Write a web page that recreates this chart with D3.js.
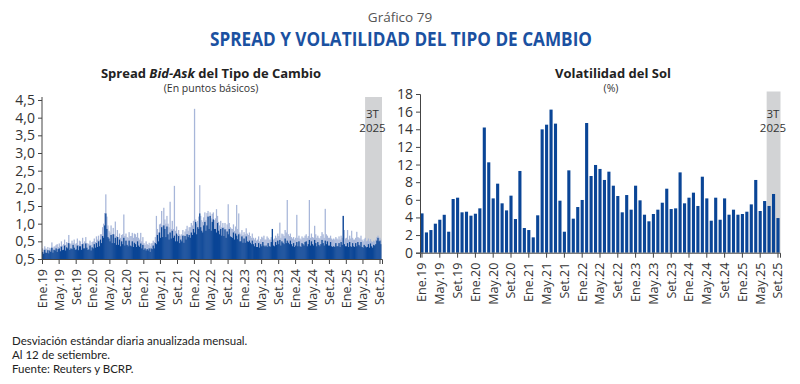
<!DOCTYPE html>
<html>
<head>
<meta charset="utf-8">
<script src="https://cdn.jsdelivr.net/npm/d3@7"></script>
<style>
  body { margin: 0; background: #fff; }
  svg text { font-family: "Open Sans", Lato, sans-serif; fill: #333; }
</style>
</head>
<body>
<svg id="chart" width="800" height="384"></svg>
<script>
// Spread bid-ask (pb): 4 valores por mes (aprox. semanales), Ene.19 - Set.25
var spreadOscuro = [
  [0.2,0.15,0.26,0.18],[0.17,0.25,0.16,0.24],[0.2,0.32,0.18,0.26],[0.24,0.3,0.2,0.28],
  [0.3,0.22,0.35,0.25],[0.26,0.38,0.24,0.33],[0.3,0.45,0.26,0.3],[0.28,0.4,0.32,0.26],
  [0.27,0.38,0.25,0.36],[0.36,0.26,0.42,0.3],[0.3,0.44,0.32,0.26],[0.27,0.38,0.24,0.33],
  [0.3,0.42,0.32,0.45],[0.34,0.5,0.36,0.55],[0.45,0.65,0.6,0.95],[1.29,0.85,0.62,0.58],
  [0.5,0.68,0.45,0.7],[0.45,0.6,0.4,0.62],[0.4,0.55,0.36,0.5],[0.42,0.6,0.38,0.52],
  [0.4,0.36,0.52,0.38],[0.36,0.5,0.34,0.46],[0.42,0.34,0.5,0.38],[0.34,0.44,0.3,0.4],
  [0.26,0.3,0.24,0.28],[0.24,0.3,0.2,0.3],[0.28,0.38,0.3,0.45],[0.42,0.68,0.5,0.75],
  [0.6,0.9,0.62,0.95],[0.85,0.62,0.92,0.7],[0.55,0.75,0.58,0.8],[0.6,0.66,0.5,0.72],
  [0.5,0.65,0.45,0.55],[0.5,0.66,0.46,0.65],[0.55,0.7,0.62,0.68],[0.6,0.75,0.68,0.85],
  [0.75,1.05,0.7,0.9],[0.85,1.29,0.9,0.8],[0.75,0.95,1.05,0.8],[0.95,1.2,0.85,1.22],
  [0.8,1.05,1.12,0.85],[0.85,0.75,1.02,0.8],[0.7,0.85,0.66,0.88],[0.65,0.84,0.6,0.78],
  [0.7,0.85,0.64,0.62],[0.6,0.75,0.55,0.72],[0.66,0.56,0.7,0.5],[0.5,0.64,0.46,0.58],
  [0.46,0.64,0.5,0.48],[0.52,0.46,0.42,0.52],[0.42,0.36,0.45,0.34],[0.34,0.45,0.32,0.42],
  [0.36,0.48,0.38,0.35],[0.38,0.34,0.45,0.36],[0.35,0.48,0.85,0.38],[0.36,0.48,0.4,0.52],
  [0.42,0.54,0.38,0.5],[0.46,0.42,0.58,0.45],[0.52,0.46,0.42,0.52],[0.42,0.36,0.45,0.34],
  [0.38,0.48,0.36,0.5],[0.36,0.34,0.45,0.42],[0.38,0.48,0.5,0.36],[0.42,0.54,0.38,0.5],
  [0.42,0.38,0.54,0.45],[0.36,0.48,0.4,0.36],[0.42,0.54,0.45,0.38],[0.52,0.42,0.5,0.38],
  [0.38,0.48,0.36,0.34],[0.36,0.34,0.45,0.36],[0.36,0.45,0.34,0.48],[0.4,1.22,0.42,0.36],
  [0.36,0.45,0.34,0.48],[0.36,0.34,0.45,0.36],[0.34,0.45,0.36,0.48],[0.4,0.36,0.48,0.34],
  [0.32,0.4,0.36,0.33],[0.34,0.42,0.32,0.44],[0.36,0.32,0.4,0.38],[0.42,0.52,0.6,0.5],
  [0.52,0.42]
]
var spreadClaro = [
  [0.3,0.26,0.36,0.3],[0.28,0.34,0.26,0.32],[0.3,0.47,0.3,0.35],[0.36,0.4,0.42,0.34],
  [0.44,0.36,0.5,0.38],[0.42,0.55,0.4,0.48],[0.45,0.68,0.42,0.44],[0.52,0.45,0.55,0.42],
  [0.45,0.58,0.4,0.52],[0.5,0.42,0.6,0.45],[0.5,0.62,0.45,0.44],[0.42,0.52,0.4,0.48],
  [0.5,0.58,0.48,0.64],[0.55,0.66,0.52,0.7],[0.7,0.9,1.0,1.3],[1.83,1.2,0.95,0.8],
  [0.75,0.95,0.7,0.88],[0.7,1.06,0.65,0.82],[0.62,0.72,0.6,0.68],[0.7,1.26,0.65,0.72],
  [0.62,0.6,0.76,0.65],[0.65,0.74,0.6,0.72],[0.7,0.62,0.74,0.6],[0.55,0.74,0.5,0.62],
  [0.45,0.4,0.5,0.42],[0.4,0.46,0.36,0.44],[0.45,0.52,0.48,0.62],[1.22,0.85,0.75,0.98],
  [1.0,1.36,0.95,1.45],[1.12,1.0,1.22,1.0],[0.9,1.62,0.85,1.08],[0.85,2.07,0.8,0.92],
  [0.68,0.82,0.7,0.66],[0.7,0.82,0.68,0.78],[0.85,0.94,0.8,0.9],[0.9,1.02,0.95,1.08],
  [4.25,1.12,1.0,1.08],[1.2,2.09,1.22,1.1],[1.05,1.18,1.32,1.1],[1.3,1.36,1.2,1.32],
  [1.15,1.28,1.32,1.1],[1.15,1.41,1.22,1.05],[0.95,1.08,0.9,1.02],[0.9,1.02,0.85,0.98],
  [1.55,1.02,0.9,0.86],[0.85,0.98,0.8,0.92],[1.53,0.85,1.29,0.75],[0.7,0.82,0.68,0.76],
  [0.7,0.87,0.72,0.68],[0.75,0.65,0.6,0.72],[0.6,0.55,0.6,0.52],[0.55,0.64,0.5,0.56],
  [0.63,0.6,0.66,0.55],[0.55,0.64,0.6,0.55],[0.55,0.62,0.85,0.55],[0.58,0.66,0.6,0.72],
  [0.65,1.03,0.6,0.72],[0.7,0.65,0.82,0.75],[1.67,0.7,0.65,0.72],[0.62,0.58,0.62,0.55],
  [0.6,1.25,0.6,0.66],[0.58,0.55,0.64,0.6],[0.6,0.66,0.7,0.6],[0.65,1.67,0.6,0.72],
  [0.62,0.6,0.94,0.7],[0.6,0.66,0.6,0.58],[0.65,0.76,0.7,0.6],[1.42,0.7,0.66,0.6],
  [0.6,0.66,0.58,0.55],[0.58,0.55,0.62,0.58],[0.55,0.64,0.55,0.66],[0.6,1.22,0.82,0.58],
  [0.6,0.82,0.55,0.66],[0.58,0.8,0.6,0.55],[0.55,0.6,0.77,0.62],[0.6,0.58,0.66,0.55],
  [0.5,0.56,0.6,0.5],[0.52,0.58,0.5,0.56],[0.5,0.48,0.52,0.5],[0.55,0.62,0.66,0.6],
  [0.6,0.55]
]
var spreadTicks = [0, 0.5, 1, 1.5, 2, 2.5, 3, 3.5, 4, 4.5]
var spreadTickLabels = ['0,5', '0,5', '1,0', '1,5', '2,0', '2,5', '3,0', '3,5', '4,0', '4,5']

// Volatilidad del Sol (%), mensual Ene.19 - Set.25
var volatilidad = [
  4.46, 2.3, 2.57, 3.29, 3.74, 4.3, 2.38, 6.09, 6.24, 4.58, 4.65, 4.2,
  4.42, 5.03, 14.2, 10.25, 6.16, 7.83, 5.6, 4.8, 6.47, 3.82, 9.27, 2.8,
  2.57, 1.74, 4.24, 13.99, 14.52, 16.23, 14.64, 5.9, 2.38, 9.34, 3.86, 5.18,
  5.98, 14.71, 8.7, 9.95, 9.5, 8.25, 9.19, 7.6, 6.43, 4.58, 6.54, 4.88,
  7.6, 5.94, 4.31, 3.56, 4.39, 4.88, 5.67, 7.26, 4.95, 5.03, 9.11, 5.6,
  6.24, 6.81, 5.3, 8.62, 6.16, 3.63, 6.24, 3.74, 6.16, 4.31, 4.88, 4.31,
  4.39, 4.65, 5.48, 8.25, 4.73, 5.86, 5.3, 6.66, 3.93
]
var volTicks = [0, 2, 4, 6, 8, 10, 12, 14, 16, 18]
var volTickLabels = ['0', '2', '4', '6', '8', '12', '12', '14', '16', '18']

var mesesAbr = ['Ene', 'Feb', 'Mar', 'Abr', 'May', 'Jun', 'Jul', 'Ago', 'Set', 'Oct', 'Nov', 'Dic']
var notas = ['Desviación estándar diaria anualizada mensual.', 'Al 12 de setiembre.', 'Fuente: Reuters y BCRP.']

var azul = '#0a4596'
var azulClaro = '#a7b6d9'
var gris = '#d2d3d5'

var svg = d3.select('#chart')

function fmtMes (d) {
  return mesesAbr[d.getMonth()] + '.' + String(d.getFullYear()).slice(2)
}

// titulos
svg.append('text').attr('x', 400).attr('y', 22).attr('text-anchor', 'middle')
  .style('font-size', '13.5px').style('fill', '#555').text('Gráfico 79')
svg.append('text').attr('x', 401).attr('y', 46).attr('text-anchor', 'middle')
  .attr('textLength', 382).attr('lengthAdjust', 'spacingAndGlyphs')
  .style('font-size', '20px').style('font-weight', 'bold').style('fill', '#1b51a1')
  .text('SPREAD Y VOLATILIDAD DEL TIPO DE CAMBIO')

var sub1 = svg.append('text').attr('x', 211).attr('y', 78).attr('text-anchor', 'middle')
  .style('font-size', '13px').style('font-weight', 'bold').style('fill', '#222')
sub1.append('tspan').text('Spread ')
sub1.append('tspan').style('font-style', 'italic').text('Bid-Ask')
sub1.append('tspan').text(' del Tipo de Cambio')
svg.append('text').attr('x', 211).attr('y', 92).attr('text-anchor', 'middle')
  .style('font-size', '10.5px').text('(En puntos básicos)')

svg.append('text').attr('x', 613).attr('y', 78).attr('text-anchor', 'middle')
  .style('font-size', '13px').style('font-weight', 'bold').style('fill', '#222').text('Volatilidad del Sol')
svg.append('text').attr('x', 611).attr('y', 92).attr('text-anchor', 'middle')
  .style('font-size', '10.5px').text('(%)')

// ---------- panel izquierdo: spread ----------
var x1 = d3.scaleTime().domain([new Date(2019, 0, 1), new Date(2025, 8, 19)]).range([42, 382])
var y1 = d3.scaleLinear().domain([0, 4.5]).range([259, 100])

var g1 = svg.append('g')

// sombreado 3T 2025 (en el original arranca algo antes de julio)
var sombra1 = x1(new Date(2025, 4, 20))
g1.append('rect').attr('x', sombra1).attr('y', 97)
  .attr('width', 382 - sombra1).attr('height', y1(0) - 97).attr('fill', gris)
g1.append('text').attr('x', 372.5).attr('y', 118).attr('text-anchor', 'middle')
  .style('font-size', '11.5px').text('3T')
g1.append('text').attr('x', 372.5).attr('y', 132).attr('text-anchor', 'middle')
  .style('font-size', '11.5px').text('2025')

function semanas (serie) {
  var out = []
  serie.forEach(function (vals, m) {
    var ini = new Date(2019, m, 1)
    var fin = (m === serie.length - 1) ? new Date(2019, m, 13) : new Date(2019, m + 1, 1)
    var span = (fin - ini) / vals.length
    vals.forEach(function (v, i) {
      out.push({ d0: new Date(+ini + span * i), d1: new Date(+ini + span * (i + 1)), v: v })
    })
  })
  return out
}

function barras (datos, color) {
  g1.append('g').selectAll('rect').data(datos).enter().append('rect')
    .attr('x', function (d) { return x1(d.d0) })
    .attr('width', function (d) { return x1(d.d1) - x1(d.d0) + 0.2 })
    .attr('y', function (d) { return y1(d.v) })
    .attr('height', function (d) { return y1(0) - y1(d.v) })
    .attr('fill', color)
}
barras(semanas(spreadClaro), azulClaro)
barras(semanas(spreadOscuro), azul)

var yAxis1 = g1.append('g').attr('transform', 'translate(42,0)')
  .call(d3.axisLeft(y1).tickValues(spreadTicks).tickSize(4)
    .tickFormat(function (d, i) { return spreadTickLabels[i] }))
yAxis1.select('.domain').attr('d', 'M0,97V259')

var xAxis1 = g1.append('g').attr('transform', 'translate(0,259)')
  .call(d3.axisBottom(x1).ticks(d3.timeMonth.every(4)).tickSize(5).tickFormat(fmtMes))

// ---------- panel derecho: volatilidad ----------
var meses = volatilidad.map(function (v, i) { return new Date(2019, i, 1) })
var x2 = d3.scaleBand().domain(meses).range([420, 780]).paddingInner(0.3).paddingOuter(0.1)
var y2 = d3.scaleLinear().domain([0, 18]).range([252.7, 94])

var g2 = svg.append('g')
var sombraIni = x2(meses[78]) - x2.step() * 0.2
g2.append('rect').attr('x', sombraIni).attr('y', 91.5)
  .attr('width', 780.5 - sombraIni).attr('height', y2(0) - 91.5).attr('fill', gris)
g2.append('text').attr('x', 773).attr('y', 118).attr('text-anchor', 'middle')
  .style('font-size', '11.5px').text('3T')
g2.append('text').attr('x', 773).attr('y', 132).attr('text-anchor', 'middle')
  .style('font-size', '11.5px').text('2025')

g2.append('g').selectAll('rect').data(volatilidad).enter().append('rect')
  .attr('x', function (d, i) { return x2(meses[i]) })
  .attr('width', x2.bandwidth())
  .attr('y', function (d) { return y2(d) })
  .attr('height', function (d) { return y2(0) - y2(d) })
  .attr('fill', azul)

var yAxis2 = g2.append('g').attr('transform', 'translate(420,0)')
  .call(d3.axisLeft(y2).tickValues(volTicks).tickSize(4)
    .tickFormat(function (d, i) { return volTickLabels[i] }))

var xAxis2 = g2.append('g').attr('transform', 'translate(0,252.7)')
  .call(d3.axisBottom(x2).tickValues(meses.filter(function (d, i) { return i % 4 === 0 }))
    .tickSize(5).tickFormat(fmtMes))

// estilo de ejes
svg.selectAll('.domain').attr('stroke', '#444')
svg.selectAll('.tick line').attr('stroke', '#444')
svg.selectAll('.tick text').style('font-size', '14px').attr('fill', '#333')
  .style('font-family', '"Open Sans", sans-serif')
;[xAxis1, xAxis2].forEach(function (ax) {
  ax.selectAll('.tick text').style('font-size', '12.5px')
    .attr('transform', 'rotate(-90)').attr('text-anchor', 'end')
    .attr('x', -10).attr('y', 0).attr('dy', '0.35em')
})

// notas
svg.selectAll('.nota').data(notas).enter().append('text').attr('class', 'nota')
  .attr('x', 12).attr('y', function (d, i) { return 345 + i * 14 })
  .style('font-size', '11.5px').style('font-family', 'Lato, sans-serif').style('fill', '#222')
  .text(function (d) { return d })
</script>
</body>
</html>
